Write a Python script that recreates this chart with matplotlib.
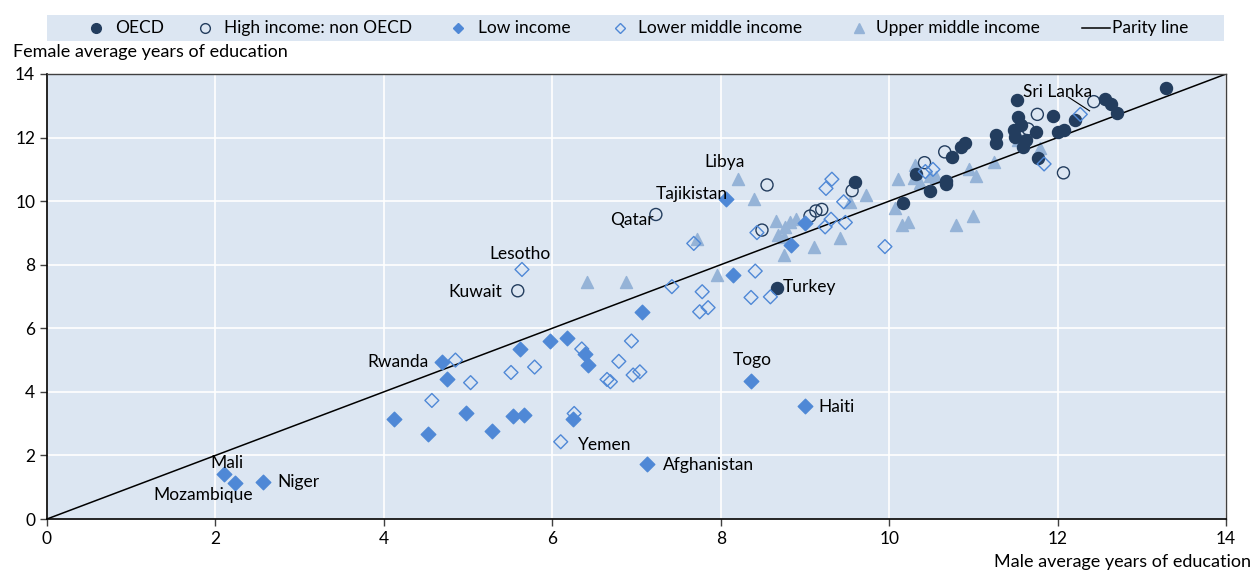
import numpy as np
import matplotlib.pyplot as plt
from matplotlib.patches import Rectangle
from matplotlib.lines import Line2D

plt.rcParams['font.family'] = ['Lato', 'DejaVu Sans']

# OECD
oecd_x = [13.29, 11.52, 12.56, 12.64, 12.70, 12.21, 11.94, 11.53, 11.56, 11.48, 11.74, 11.27, 11.27,
          11.50, 11.63, 11.59, 12.00, 12.08, 11.77, 10.90, 10.85, 10.75, 10.32, 10.68, 10.68, 10.49,
          10.17, 9.60, 8.67]
oecd_y = [13.56, 13.18, 13.20, 13.05, 12.76, 12.55, 12.68, 12.64, 12.39, 12.24, 12.16, 12.08, 11.84,
          12.03, 11.92, 11.71, 12.16, 12.24, 11.37, 11.84, 11.71, 11.38, 10.85, 10.62, 10.55, 10.33,
          9.94, 10.59, 7.26]

# High income: non OECD
hinc_x = [12.43, 11.76, 11.65, 12.07, 10.66, 10.42, 9.56, 9.20, 9.13, 9.06, 8.49, 8.55, 7.23, 5.59]
hinc_y = [13.13, 12.73, 12.27, 10.89, 11.55, 11.21, 10.33, 9.74, 9.69, 9.53, 9.09, 10.51, 9.58, 7.18]

# Low income
low_x = [8.06, 9.00, 8.84, 8.14, 7.06, 5.97, 6.17, 5.62, 4.69, 4.75, 6.39, 6.43, 4.12, 4.97, 5.53,
         5.67, 4.52, 5.28, 6.25, 7.13, 2.10, 2.23, 2.56, 8.36, 9.00]
low_y = [10.06, 9.32, 8.62, 7.68, 6.52, 5.60, 5.70, 5.35, 4.93, 4.40, 5.19, 4.86, 3.14, 3.32, 3.24,
         3.27, 2.67, 2.77, 3.14, 1.72, 1.42, 1.14, 1.16, 4.35, 3.55]

# Lower middle income
lmid_x = [12.27, 11.84, 10.43, 10.52, 9.95, 9.32, 9.25, 9.46, 9.31, 9.24, 9.48, 8.43, 7.68, 8.41,
          7.42, 7.78, 7.75, 7.85, 8.36, 8.59, 5.64, 4.85, 5.03, 5.51, 5.79, 6.35, 6.94, 6.79, 6.65,
          6.69, 6.96, 7.04, 4.57, 6.26, 6.10]
lmid_y = [12.73, 11.17, 10.93, 11.00, 8.57, 10.69, 10.40, 9.98, 9.43, 9.19, 9.33, 9.01, 8.67, 7.80,
          7.31, 7.15, 6.52, 6.65, 6.97, 6.99, 7.85, 5.00, 4.29, 4.61, 4.78, 5.35, 5.60, 4.96, 4.39,
          4.32, 4.53, 4.63, 3.73, 3.32, 2.43]

# Upper middle income
umid_x = [11.53, 11.79, 10.95, 11.03, 11.25, 10.31, 10.11, 10.29, 10.48, 10.56, 10.37, 10.07, 10.15,
          10.22, 10.79, 11.00, 9.73, 9.54, 9.42, 9.11, 8.75, 8.20, 8.39, 8.66, 8.82, 8.89, 8.76, 8.68,
          8.75, 7.72, 6.41, 6.88, 7.95]
umid_y = [11.92, 11.66, 11.01, 10.79, 11.24, 11.14, 10.69, 10.72, 10.79, 10.77, 10.56, 9.77, 9.25,
          9.35, 9.25, 9.54, 10.19, 9.98, 8.83, 8.57, 8.32, 10.70, 10.06, 9.37, 9.35, 9.44, 9.18, 8.93,
          8.88, 8.81, 7.47, 7.47, 7.68]

# country labels
lab_names = ['Libya', 'Tajikistan', 'Qatar', 'Lesotho', 'Kuwait', 'Rwanda', 'Yemen', 'Afghanistan',
             'Turkey', 'Togo', 'Haiti', 'Mali', 'Mozambique', 'Niger']
lab_x = [8.05, 7.66, 6.94, 5.62, 5.09, 4.17, 6.62, 7.85, 9.06, 8.37, 9.38, 2.14, 1.85, 2.99]
lab_y = [11.23, 10.24, 9.41, 8.34, 7.15, 4.95, 2.33, 1.70, 7.31, 5.00, 3.52, 1.75, 0.75, 1.17]

legend_names = ['OECD', 'High income: non OECD', 'Low income', 'Lower middle income',
                'Upper middle income', 'Parity line']

navy = '#233d5e'
blue = '#4f88d6'
light = '#95b3d7'
bg = '#dce6f2'

W, H = 1253, 571
fig = plt.figure(figsize=(W / 100, H / 100), dpi=100)
ax = fig.add_axes([47 / W, 1 - 519 / H, (1226 - 47) / W, (519 - 74) / H])
ax.set_facecolor(bg)

ax.scatter(oecd_x, oecd_y, s=75, c=navy, marker='o', zorder=3)
ax.scatter(hinc_x, hinc_y, s=75, facecolors='none', edgecolors=navy, linewidths=1.0, marker='o', zorder=3)
ax.scatter(low_x, low_y, s=55, c=blue, marker='D', zorder=3)
ax.scatter(lmid_x, lmid_y, s=50, facecolors='none', edgecolors=blue, linewidths=1.0, marker='D', zorder=3)
ax.scatter(umid_x, umid_y, s=75, c=light, marker='^', zorder=2)
ax.plot([0, 14], [0, 14], color='black', lw=1.1, zorder=2)

for name, x, y in zip(lab_names, lab_x, lab_y):
    ax.text(x, y, name, fontsize=12.5, ha='center', va='center', zorder=4)
ax.text(11.59, 13.44, 'Sri Lanka', fontsize=12.5, ha='left', va='center', zorder=4)
ax.plot([12.13, 12.38], [13.27, 12.84], color='black', lw=0.8, zorder=4)

ax.set_xlim(0, 14)
ax.set_ylim(0, 14)
ax.set_xticks(range(0, 15, 2))
ax.set_yticks(range(0, 15, 2))
ax.grid(True, color='white', lw=1.2)
ax.set_axisbelow(True)
ax.tick_params(direction='out', length=5, width=1, color='#404040', labelsize=12.5)
for s in ['left', 'bottom']:
    ax.spines[s].set_color('black')
    ax.spines[s].set_linewidth(1.2)
for s in ['top', 'right']:
    ax.spines[s].set_color('#404040')
    ax.spines[s].set_linewidth(1.0)

fig.text(13 / W, 1 - 52 / H, 'Female average years of education', fontsize=13, va='center')
fig.text(1251 / W, 1 - 562 / H, 'Male average years of education', fontsize=13, va='center', ha='right')

# legend drawn by hand in figure pixels
fig.patches.append(Rectangle((47 / W, 1 - 41 / H), (1224 - 47) / W, 26 / H,
                             transform=fig.transFigure, facecolor=bg, edgecolor='none', zorder=0))
ly = 1 - 28 / H
mk_x = [96, 205, 458, 620, 859]
txt_x = [115, 224, 478, 638, 876]
mk_style = [dict(marker='o', color=navy, mfc=navy, ms=7),
            dict(marker='o', color=navy, mfc='none', ms=7, mew=1.0),
            dict(marker='D', color=blue, mfc=blue, ms=5.5),
            dict(marker='D', color=blue, mfc='none', ms=5.5, mew=1.0),
            dict(marker='^', color=light, mfc=light, ms=7.5)]
for mx, tx, name, st in zip(mk_x, txt_x, legend_names[:5], mk_style):
    fig.lines.append(Line2D([mx / W], [ly], transform=fig.transFigure, ls='none', **st))
    fig.text(tx / W, ly, name, fontsize=12.5, va='center')
fig.lines.append(Line2D([1082 / W, 1110 / W], [ly, ly], transform=fig.transFigure, color='black', lw=1.1))
fig.text(1112 / W, ly, legend_names[5], fontsize=12.5, va='center')

plt.savefig('out.png', dpi=100)
